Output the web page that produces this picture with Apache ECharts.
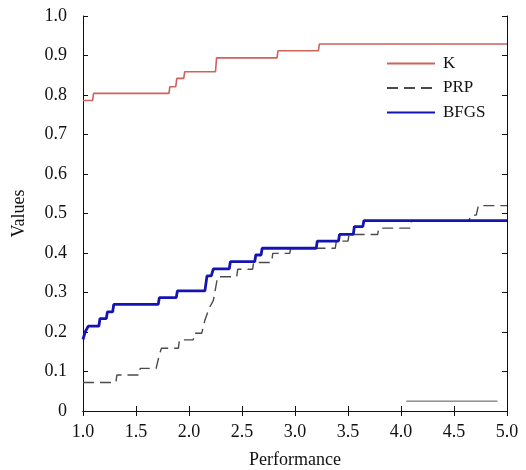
<!DOCTYPE html>
<html>
<head>
<meta charset="utf-8">
<script src="https://cdn.jsdelivr.net/npm/echarts@6/dist/echarts.min.js"></script>
<style>
  html, body { margin: 0; padding: 0; background: #fff; }
  #chart { width: 526px; height: 470px; }
</style>
</head>
<body>
<div id="chart"></div>
<script>
// corner points of each step curve: [performance, value]
const kPoints = [
  [1.0, 0.786], [1.09, 0.786], [1.10, 0.804], [1.81, 0.804], [1.82, 0.821],
  [1.875, 0.821], [1.885, 0.842], [1.95, 0.842], [1.96, 0.859], [2.25, 0.859],
  [2.26, 0.894], [2.83, 0.894], [2.84, 0.912], [3.22, 0.912], [3.23, 0.929],
  [5.0, 0.929]
]
const prpPoints = [
  [1.0, 0.072], [1.31, 0.072], [1.32, 0.091], [1.53, 0.091], [1.54, 0.108],
  [1.69, 0.108], [1.72, 0.142], [1.74, 0.159], [1.90, 0.159], [1.91, 0.18],
  [2.04, 0.18], [2.05, 0.197], [2.12, 0.197], [2.15, 0.23], [2.19, 0.26],
  [2.23, 0.28], [2.27, 0.34], [2.45, 0.34], [2.46, 0.359], [2.60, 0.359],
  [2.61, 0.376], [2.78, 0.376], [2.79, 0.399], [2.95, 0.399], [2.96, 0.412],
  [3.38, 0.412], [3.39, 0.43], [3.50, 0.43], [3.51, 0.447], [3.78, 0.447],
  [3.79, 0.463], [4.09, 0.463], [4.10, 0.482], [4.64, 0.482], [4.66, 0.496],
  [4.71, 0.496], [4.73, 0.52], [5.0, 0.52]
]
const bfgsPoints = [
  [1.0, 0.181], [1.02, 0.2], [1.05, 0.215], [1.15, 0.215], [1.16, 0.234],
  [1.22, 0.234], [1.23, 0.251], [1.28, 0.251], [1.29, 0.270], [1.71, 0.270],
  [1.72, 0.287], [1.88, 0.287], [1.89, 0.304], [2.15, 0.304], [2.17, 0.342],
  [2.21, 0.342], [2.23, 0.36], [2.38, 0.36], [2.39, 0.378], [2.62, 0.378],
  [2.63, 0.395], [2.68, 0.395], [2.69, 0.412], [3.20, 0.412], [3.21, 0.430],
  [3.41, 0.430], [3.42, 0.447], [3.55, 0.447], [3.56, 0.467], [3.64, 0.467],
  [3.65, 0.482], [5.0, 0.482]
]
// leftover thin stroke near the bottom right of the original figure
const strayLine = [[4.05, 0.025], [4.91, 0.025]]

const legendNames = ['K', 'PRP', 'BFGS']
const xTicks = { min: 1, max: 5, step: 0.5 }
const yTicks = { min: 0, max: 1, step: 0.1 }

const font = '"Liberation Serif", "DejaVu Serif", serif'
const ink = '#111'

const chart = echarts.init(document.getElementById('chart'))

const tickStyle = { show: true, inside: true, length: 5, lineStyle: { color: ink, width: 1 } }
const lineBase = { type: 'line', showSymbol: false, symbol: 'none', silent: true, animation: false }

chart.setOption({
  animation: false,
  grid: { left: 83, right: 19, top: 16, bottom: 59, containLabel: false, outerBoundsMode: 'none' },
  legend: {
    data: legendNames,
    orient: 'vertical',
    left: 386,
    top: 55,
    padding: 0,
    itemWidth: 48,
    itemHeight: 14,
    itemGap: 7.5,
    itemStyle: { opacity: 0 },
    textStyle: { fontFamily: font, fontSize: 17, color: ink, padding: [0, 0, 0, 3] }
  },
  xAxis: [
    {
      type: 'value', min: xTicks.min, max: xTicks.max, interval: xTicks.step,
      name: 'Performance', nameLocation: 'middle', nameGap: 40,
      nameTextStyle: { fontFamily: font, fontSize: 18, color: ink },
      axisLine: { lineStyle: { color: ink, width: 1 } },
      axisTick: tickStyle,
      splitLine: { show: false },
      axisLabel: { fontFamily: font, fontSize: 18, color: ink, margin: 12, formatter: v => v.toFixed(1) }
    },
    {
      type: 'value', position: 'top', min: xTicks.min, max: xTicks.max, interval: xTicks.step,
      axisLine: { lineStyle: { color: ink, width: 1 } },
      axisTick: tickStyle, axisLabel: { show: false }, splitLine: { show: false }
    }
  ],
  yAxis: [
    {
      type: 'value', min: yTicks.min, max: yTicks.max, interval: yTicks.step,
      name: 'Values', nameLocation: 'middle', nameGap: 55,
      nameTextStyle: { fontFamily: font, fontSize: 18, color: ink },
      axisLine: { show: true, lineStyle: { color: ink, width: 1 } },
      axisTick: tickStyle,
      splitLine: { show: false },
      axisLabel: { fontFamily: font, fontSize: 18, color: ink, margin: 16, formatter: v => v === 0 ? '0' : v.toFixed(1) }
    },
    {
      type: 'value', position: 'right', min: yTicks.min, max: yTicks.max, interval: yTicks.step,
      axisLine: { show: true, lineStyle: { color: ink, width: 1 } },
      axisTick: tickStyle, axisLabel: { show: false }, splitLine: { show: false }
    }
  ],
  series: [
    Object.assign({}, lineBase, {
      name: 'K', data: kPoints, z: 3,
      itemStyle: { color: '#d0625e' },
      lineStyle: { color: '#d0625e', width: 1.6 }
    }),
    Object.assign({}, lineBase, {
      name: 'PRP', data: prpPoints, z: 2,
      itemStyle: { color: '#4a4a4a' },
      lineStyle: { color: '#4a4a4a', width: 1.4, type: [11, 6] }
    }),
    Object.assign({}, lineBase, {
      name: 'BFGS', data: bfgsPoints, z: 4,
      itemStyle: { color: '#1414b4' },
      lineStyle: { color: '#1414b4', width: 2.8 }
    }),
    Object.assign({}, lineBase, {
      name: 'stray', data: strayLine, z: 1,
      lineStyle: { color: '#555', width: 1 }
    })
  ]
})
</script>
</body>
</html>
